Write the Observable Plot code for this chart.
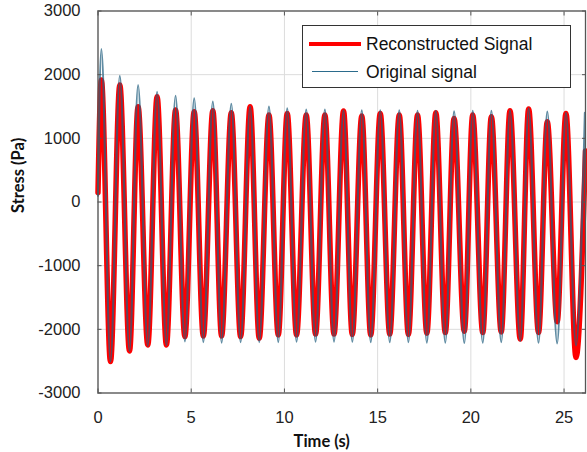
<!DOCTYPE html>
<html><head><meta charset="utf-8">
<script src="https://cdn.jsdelivr.net/npm/d3@7"></script>
<script src="https://cdn.jsdelivr.net/npm/@observablehq/plot@0.6"></script>
<style>
body{margin:0;background:#fff;}
#wrap{position:relative;width:587px;height:452px;overflow:hidden;}
#legend{position:absolute;left:302px;top:25px;width:269px;height:63px;background:#fff;border:1px solid #333;box-sizing:border-box;font-family:"Liberation Sans",Arial,sans-serif;font-size:17.5px;color:#111;}
#legend .lbl{position:absolute;left:63px;height:20px;line-height:20px;white-space:nowrap;}
#legend .smp{position:absolute;}
</style>
</head><body>
<div id="wrap"><div id="chart"></div>
<div id="legend">
  <div class="smp" style="left:6px;top:15.5px;width:52px;height:4.5px;background:#ff0000;"></div>
  <div class="lbl" style="top:7.5px;">Reconstructed Signal</div>
  <div class="smp" style="left:9px;top:45px;width:46px;height:1.2px;background:#2b6b8c;"></div>
  <div class="lbl" style="top:35.5px;">Original signal</div>
</div>
</div>
<script>
// Tick values
const xTicks = [0, 5, 10, 15, 20, 25];
const yTicks = [-3000, -2000, -1000, 0, 1000, 2000, 3000];

// Times of the extrema (s)
const peakT = [0.18, 1.17, 2.15, 3.17, 4.16, 5.16, 6.16, 7.15, 8.16, 9.17, 10.15, 11.17, 12.17, 13.17, 14.15, 15.14, 16.16, 17.14, 18.12, 19.10, 20.10, 21.10, 22.10, 23.10, 24.10, 25.10, 26.12];
const troughT = [0.67, 1.69, 2.67, 3.67, 4.66, 5.65, 6.63, 7.65, 8.65, 9.67, 10.65, 11.67, 12.66, 13.64, 14.63, 15.65, 16.65, 17.64, 18.63, 19.65, 20.64, 21.63, 22.65, 23.63, 24.63, 25.64];

// Reconstructed signal (Pa)
const redStart = {t: 0, v: 150};
const redPeak = [1915, 1837, 1496, 1653, 1444, 1418, 1434, 1402, 1496, 1366, 1392, 1366, 1366, 1428, 1350, 1392, 1366, 1366, 1402, 1313, 1365, 1339, 1433, 1460, 1260, 1392];
const redTrough = [-2507, -2339, -2245, -2245, -2114, -2104, -2104, -2114, -2140, -2088, -2088, -2075, -2075, -2080, -2088, -2075, -2080, -2060, -2050, -2030, -2050, -2040, -2152, -2050, -1880, -2441];
const redEnd = {t: 26.15, v: 800};

// Original signal (Pa)
const blueStart = {t: 0, v: 100};
const bluePeak = [2400, 1980, 1837, 1732, 1669, 1628, 1575, 1540, 1500, 1500, 1470, 1450, 1450, 1440, 1440, 1440, 1440, 1430, 1430, 1425, 1430, 1430, 1440, 1470, 1418, 1400, 1400];
const blueTrough = [-2507, -2340, -2260, -2250, -2190, -2200, -2209, -2200, -2200, -2200, -2195, -2195, -2195, -2195, -2200, -2200, -2200, -2210, -2210, -2215, -2210, -2200, -2180, -2210, -2220, -2250];

function build(start, peaks, troughs, end) {
  const rows = [start];
  peaks.forEach((v, i) => rows.push({t: peakT[i], v}));
  troughs.forEach((v, i) => rows.push({t: troughT[i], v}));
  if (end) rows.push(end);
  return rows.sort((a, b) => a.t - b.t);
}
const redData = build(redStart, redPeak, redTrough, redEnd);
const blueData = build(blueStart, bluePeak, blueTrough, null);

const chart = Plot.plot({
  width: 587, height: 452,
  marginLeft: 97.5, marginRight: 2, marginTop: 10.5, marginBottom: 59.5,
  style: {fontFamily: '"Liberation Sans", Arial, sans-serif', fontSize: "16.5px", color: "#222", background: "#fff"},
  x: {domain: [0, 26.15]},
  y: {domain: [-3000, 3000]},
  marks: [
    Plot.gridX(xTicks, {stroke: "#dcdcdc", strokeOpacity: 1}),
    Plot.gridY(yTicks, {stroke: "#dcdcdc", strokeOpacity: 1}),
    Plot.line(redData, {x: "t", y: "v", stroke: "#ff0000", strokeWidth: 5.5, curve: "monotone-x"}),
    Plot.line(blueData, {x: "t", y: "v", stroke: "#235f80", strokeWidth: 2.2, strokeOpacity: 0.72, curve: "monotone-x"}),
    Plot.frame({stroke: "#555", strokeWidth: 1.3}),
    Plot.axisX(xTicks, {anchor: "bottom", tickSize: -4, tickPadding: 22, label: null, stroke: "#555", tickFormat: d => String(d)}),
    Plot.axisX(xTicks, {anchor: "top", tickSize: -4, label: null, stroke: "#555", tickFormat: () => ""}),
    Plot.axisY(yTicks, {anchor: "left", tickSize: -4, tickPadding: 21.5, label: null, stroke: "#555", tickFormat: d => String(d)}),
    Plot.axisY(yTicks, {anchor: "right", tickSize: -4, label: null, stroke: "#555", tickFormat: () => ""}),
    Plot.text(["Time (s)"], {text: d => d, frameAnchor: "bottom", lineAnchor: "middle", dy: 49, dx: -20, fontWeight: "bold", fontFamily: "Lato", fontSize: 16.5, fill: "#111"}),
    Plot.text(["Stress (Pa)"], {text: d => d, frameAnchor: "left", lineAnchor: "middle", rotate: -90, dx: -79.5, dy: 11, fontWeight: "bold", fontFamily: "Lato", fontSize: 16.5, fill: "#111"})
  ]
});
document.getElementById("chart").appendChild(chart);
</script>
</body></html>
